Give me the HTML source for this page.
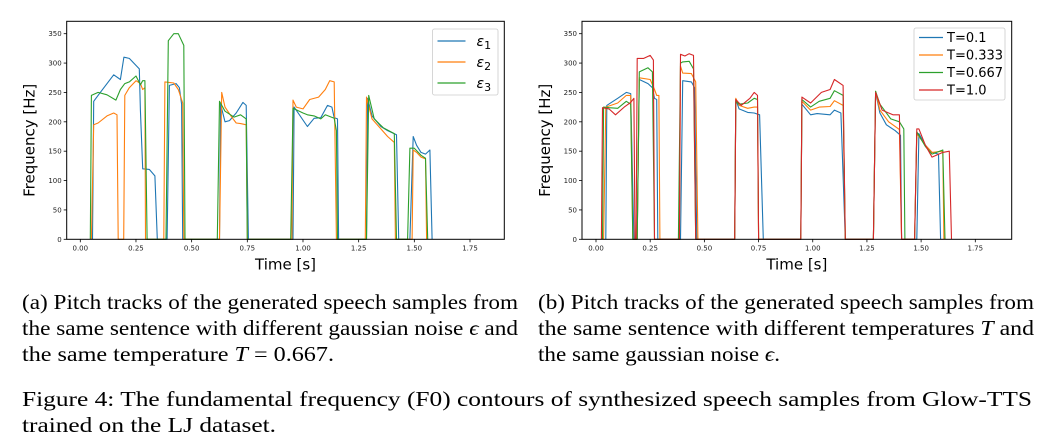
<!DOCTYPE html>
<html><head><meta charset="utf-8"><style>
html,body{margin:0;padding:0;background:#fff;}
svg{display:block;}
.tick{font:7px "DejaVu Sans",sans-serif;fill:#222;}
.lab{font:15px "DejaVu Sans",sans-serif;fill:#000;}
.cap{font:21px "Liberation Serif",serif;fill:#000;}
</style></head><body>
<svg id="root" width="1054" height="442" xmlns="http://www.w3.org/2000/svg">
<g id="chartA"></g>
<g id="chartB"></g>
<g>
<text class="cap" x="22" y="309" textLength="496" lengthAdjust="spacingAndGlyphs">(a) Pitch tracks of the generated speech samples from</text>
<text class="cap" x="22" y="335" textLength="496" lengthAdjust="spacingAndGlyphs">the same sentence with different gaussian noise <tspan font-style="italic">ϵ</tspan> and</text>
<text class="cap" x="22" y="361" textLength="312" lengthAdjust="spacingAndGlyphs">the same temperature <tspan font-style="italic">T</tspan> = 0.667.</text>
<text class="cap" x="538" y="309" textLength="496" lengthAdjust="spacingAndGlyphs">(b) Pitch tracks of the generated speech samples from</text>
<text class="cap" x="538" y="335" textLength="496" lengthAdjust="spacingAndGlyphs">the same sentence with different temperatures <tspan font-style="italic">T</tspan> and</text>
<text class="cap" x="538" y="361" textLength="242" lengthAdjust="spacingAndGlyphs">the same gaussian noise <tspan font-style="italic">ϵ</tspan>.</text>
<text class="cap" x="22" y="406" textLength="1010" lengthAdjust="spacingAndGlyphs">Figure 4: The fundamental frequency (F0) contours of synthesized speech samples from Glow-TTS</text>
<text class="cap" x="22" y="432" textLength="254" lengthAdjust="spacingAndGlyphs">trained on the LJ dataset.</text>
</g>
</svg>
<script>
const yTicks=[0,50,100,150,200,250,300,350];
const xTicks=[0,0.25,0.5,0.75,1.0,1.25,1.5,1.75];
const xTickLabels=["0.00","0.25","0.50","0.75","1.00","1.25","1.50","1.75"];
const colors=["#1f77b4","#ff7f0e","#2ca02c","#d62728"];
const seriesA_eps1=[[0.055,0],[0.06,235],[0.09,250],[0.15,280],[0.18,272],[0.196,310],[0.22,308],[0.265,290],[0.27,220],[0.28,120],[0.31,119],[0.335,108],[0.346,0],[0.39,0],[0.40,262],[0.43,265],[0.445,258],[0.455,230],[0.46,0],[0.625,0],[0.63,230],[0.65,200],[0.67,202],[0.70,215],[0.73,233],[0.745,228],[0.755,0],[0.955,0],[0.96,225],[1.02,192],[1.05,206],[1.08,207],[1.11,228],[1.13,225],[1.14,207],[1.155,205],[1.16,0],[1.285,0],[1.29,240],[1.31,210],[1.35,192],[1.38,185],[1.42,178],[1.43,0],[1.48,0],[1.495,175],[1.51,160],[1.53,148],[1.55,145],[1.57,152],[1.58,0]];
const seriesA_eps2=[[0.05,0],[0.06,195],[0.08,198],[0.12,210],[0.15,215],[0.165,212],[0.17,0],[0.195,0],[0.2,245],[0.22,258],[0.25,270],[0.27,265],[0.28,255],[0.29,258],[0.293,0],[0.375,0],[0.38,268],[0.42,266],[0.44,255],[0.46,232],[0.465,0],[0.625,0],[0.635,250],[0.65,225],[0.68,208],[0.70,198],[0.72,197],[0.745,195],[0.75,0],[0.95,0],[0.955,237],[0.97,225],[1.0,222],[1.03,238],[1.07,242],[1.10,255],[1.12,270],[1.14,268],[1.15,0],[1.28,0],[1.285,242],[1.31,205],[1.35,188],[1.38,175],[1.41,165],[1.415,0],[1.49,0],[1.495,152],[1.51,148],[1.53,140],[1.55,137],[1.555,0]];
const seriesA_eps3=[[0.045,0],[0.05,245],[0.08,250],[0.12,246],[0.16,237],[0.18,255],[0.2,265],[0.22,268],[0.25,278],[0.27,263],[0.28,270],[0.29,270],[0.30,0],[0.385,0],[0.395,338],[0.42,350],[0.44,350],[0.465,330],[0.47,0],[0.615,0],[0.625,235],[0.65,218],[0.69,208],[0.72,212],[0.745,205],[0.75,0],[0.945,0],[0.955,223],[1.0,215],[1.02,212],[1.05,210],[1.08,205],[1.1,212],[1.14,206],[1.15,185],[1.155,0],[1.285,0],[1.295,245],[1.32,205],[1.36,190],[1.41,180],[1.42,0],[1.47,0],[1.48,155],[1.5,155],[1.53,143],[1.55,138],[1.56,0]];
const seriesB_T01=[[0.045,0],[0.05,228],[0.1,240],[0.14,250],[0.16,248],[0.175,0],[0.19,0],[0.2,272],[0.24,265],[0.26,258],[0.27,240],[0.28,238],[0.285,0],[0.39,0],[0.4,270],[0.44,268],[0.455,258],[0.465,0],[0.64,0],[0.645,238],[0.66,222],[0.7,216],[0.73,215],[0.755,212],[0.772,0],[0.945,0],[0.95,230],[0.99,212],[1.02,214],[1.08,212],[1.1,220],[1.13,215],[1.15,0],[1.28,0],[1.29,250],[1.31,215],[1.34,195],[1.38,185],[1.405,177],[1.41,0],[1.48,0],[1.49,180],[1.52,160],[1.55,148],[1.58,145],[1.59,0]];
const seriesB_T0333=[[0.035,0],[0.045,225],[0.1,232],[0.14,245],[0.16,245],[0.17,0],[0.19,0],[0.2,275],[0.25,272],[0.27,255],[0.28,245],[0.29,245],[0.295,0],[0.385,0],[0.39,295],[0.4,283],[0.44,282],[0.46,268],[0.47,0],[0.64,0],[0.645,240],[0.66,228],[0.7,223],[0.73,225],[0.745,225],[0.75,0],[0.945,0],[0.95,235],[0.99,220],[1.03,225],[1.08,226],[1.1,236],[1.14,228],[1.15,0],[1.28,0],[1.29,252],[1.31,220],[1.35,200],[1.40,187],[1.41,0],[1.47,0],[1.48,180],[1.52,160],[1.55,148],[1.6,150],[1.605,0]];
const seriesB_T0667=[[0.03,0],[0.035,225],[0.06,224],[0.1,223],[0.14,235],[0.16,230],[0.17,0],[0.19,0],[0.2,285],[0.24,292],[0.26,285],[0.27,0],[0.38,0],[0.39,300],[0.4,302],[0.43,303],[0.45,290],[0.46,0],[0.64,0],[0.645,235],[0.66,230],[0.7,232],[0.73,240],[0.745,238],[0.75,0],[0.945,0],[0.95,238],[0.99,225],[1.03,235],[1.08,240],[1.1,253],[1.14,245],[1.15,0],[1.28,0],[1.29,252],[1.31,230],[1.36,205],[1.40,200],[1.42,188],[1.425,0],[1.47,0],[1.48,183],[1.52,158],[1.55,145],[1.6,152],[1.61,0]];
const seriesB_T10=[[0.025,0],[0.03,224],[0.06,222],[0.09,212],[0.13,225],[0.16,233],[0.175,240],[0.18,0],[0.185,0],[0.19,308],[0.22,308],[0.25,313],[0.265,305],[0.27,0],[0.385,0],[0.39,315],[0.41,312],[0.43,316],[0.45,313],[0.46,0],[0.64,0],[0.645,238],[0.67,228],[0.71,240],[0.73,250],[0.745,245],[0.75,0],[0.945,0],[0.95,242],[0.99,232],[1.04,250],[1.08,255],[1.1,272],[1.14,262],[1.15,0],[1.28,0],[1.29,250],[1.32,220],[1.37,212],[1.40,212],[1.41,0],[1.47,0],[1.48,188],[1.49,188],[1.52,160],[1.55,140],[1.6,148],[1.63,150],[1.64,0]];
const legendA=["ε","ε","ε"];
const legendASub=["1","2","3"];
const legendB=["T=0.1","T=0.333","T=0.667","T=1.0"];
const NS="http://www.w3.org/2000/svg";
function mk(parent,tag,attrs){const e=document.createElementNS(NS,tag);for(const k in attrs)e.setAttribute(k,attrs[k]);parent.appendChild(e);return e;}
function drawChart(g,box,series,names,subs){
  const xs=t=>box.x0+(t-0)*(box.x175-box.x0)/1.75;
  const ys=f=>box.bottom-f*(box.bottom-box.y350)/350;
  series.forEach((s,i)=>{
    const p=mk(g,'path',{d:s.map((pt,j)=>(j?'L':'M')+xs(pt[0]).toFixed(1)+' '+ys(pt[1]).toFixed(1)).join(''),fill:'none',stroke:colors[i],'stroke-width':1.1,'stroke-linejoin':'round'});
    
    
  });
  const fr=mk(g,'rect',{x:box.left,y:box.top,width:box.right-box.left,height:box.bottom-box.top,fill:'none',stroke:'#000','stroke-width':1});
  
  
  yTicks.forEach(v=>{
    mk(g,'line',{x1:box.left-3,x2:box.left,y1:ys(v),y2:ys(v),stroke:'#000','stroke-width':0.8});
    const t=mk(g,'text',{x:box.left-5,y:ys(v)+2.5,'text-anchor':'end',class:'tick'});t.textContent=v;
    
    
  });
  xTicks.forEach((v,i)=>{
    mk(g,'line',{x1:xs(v),x2:xs(v),y1:box.bottom,y2:box.bottom+3,stroke:'#000','stroke-width':0.8});
    const t=mk(g,'text',{x:xs(v),y:box.bottom+11,'text-anchor':'middle',class:'tick'});t.textContent=xTickLabels[i];
    
    
  });
  const xl=mk(g,'text',{x:(box.left+box.right)/2,y:box.bottom+30,'text-anchor':'middle',class:'lab'});xl.textContent='Time [s]';
  
  
  const yx=box.left-32,yy=(box.top+box.bottom)/2+10;
  const yl=mk(g,'text',{x:yx,y:yy,'text-anchor':'middle',class:'lab',transform:`rotate(-90 ${yx} ${yy})`});yl.textContent='Frequency [Hz]';
  
  
  const L=box.legend;
  const lg=mk(g,'g',{});
  
  
  mk(lg,'rect',{x:L.x,y:L.y,width:L.w,height:L.h,rx:2,fill:'#fff',stroke:'#ccc','stroke-width':0.8});
  names.forEach((n,i)=>{
    const cy=L.y+L.first+i*L.step;
    mk(lg,'line',{x1:L.x+5,x2:L.x+5+L.line,y1:cy,y2:cy,stroke:colors[i],'stroke-width':1.2});
    const t=mk(lg,'text',{x:L.x+L.tx,y:cy+L.fs*0.35,style:`font:${L.fs}px "DejaVu Sans",sans-serif`});
    t.textContent=n;
    if(subs){const s=mk(t,'tspan',{dy:3,style:'font-size:11px;font-style:normal'});s.textContent=subs[i];t.style.fontStyle='italic';}
    
    
  });
}
drawChart(document.getElementById('chartA'),{left:66.7,right:504.3,top:21.3,bottom:239.3,x0:80.3,x175:470,y350:33.7,
  legend:{x:432.5,y:29,w:65.5,h:66,first:12,step:21,line:28,tx:44,fs:14}},[seriesA_eps1,seriesA_eps2,seriesA_eps3],legendA,legendASub);
drawChart(document.getElementById('chartB'),{left:582,right:1011.7,top:21.3,bottom:239.3,x0:596,x175:975.3,y350:33.7,
  legend:{x:914,y:28,w:91,h:72,first:9.5,step:17.5,line:24,tx:33,fs:13}},[seriesB_T01,seriesB_T0333,seriesB_T0667,seriesB_T10],legendB,null);
</script>
</body></html>
